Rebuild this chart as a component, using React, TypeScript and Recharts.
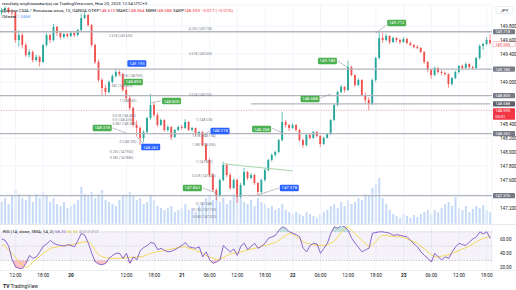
import React from 'react';
import {
  ComposedChart,
  BarChart,
  Bar,
  Line,
  Area,
  XAxis,
  YAxis,
  CartesianGrid,
  ReferenceLine,
  ReferenceDot,
  ReferenceArea,
} from 'recharts';

const FONT = 'Roboto, "Noto Sans", sans-serif';
const TEXT = '#131722';
const UP = '#26a69a';
const DOWN = '#ef5350';
const GRID = '#f0f3fa';
const LEVEL = '#b2b5be';

// USD/JPY candles (open = previous close)
const OPEN_FIRST = 150.0;
const HIGH = [
  150.06, 150.08, 150.07, 150.04, 150.01, 149.74, 149.7, 149.56, 149.47, 149.45,
  149.39, 149.38, 149.54, 149.7, 149.69, 149.83, 149.8, 149.72, 149.7, 149.7,
  149.72, 149.71, 149.76, 149.98, 150.0, 149.97, 149.83, 149.55, 149.32, 149.06,
  148.96, 149.02, 149.11, 149.193, 149.17, 149.13, 148.94, 148.8, 148.65, 148.45,
  148.37, 148.31, 148.5, 148.83, 148.7, 148.56, 148.48, 148.47, 148.38, 148.37,
  148.33, 148.38, 148.39, 148.47, 148.44, 148.36, 148.35, 148.3, 148.3, 148.13,
  147.91, 147.7, 147.48, 147.62, 147.86, 147.84, 147.7, 147.62, 147.62, 147.56,
  147.77, 147.73, 147.7, 147.69, 147.57, 147.62, 147.77, 147.9, 147.98, 148.02,
  148.19, 148.57, 148.46, 148.4, 148.41, 148.4, 148.33, 148.19, 148.26, 148.27,
  148.3, 148.3, 148.24, 148.22, 148.27, 148.47, 148.69, 148.88, 148.96, 148.94,
  149.3, 149.23, 149.11, 149.05, 149.04, 148.85, 148.78, 149.05, 149.36, 149.718,
  149.7, 149.69, 149.67, 149.65, 149.64, 149.62, 149.64, 149.63, 149.58, 149.54,
  149.53, 149.5, 149.44, 149.3, 149.19, 149.22, 149.21, 149.17, 149.15, 149.12,
  149.07, 149.16, 149.24, 149.25, 149.28, 149.27, 149.23, 149.36, 149.54, 149.56,
  149.64, 149.68,
];
const LOW = [
  149.96, 149.99, 149.98, 149.95, 149.56, 149.5, 149.48, 149.36, 149.35, 149.28,
  149.29, 149.22, 149.27, 149.5, 149.56, 149.58, 149.66, 149.61, 149.62, 149.63,
  149.64, 149.64, 149.65, 149.72, 149.9, 149.79, 149.5, 149.26, 149.0, 148.8,
  148.8, 148.84, 148.98, 149.06, 149.08, 148.86, 148.74, 148.6, 148.36, 148.22,
  148.1, 148.14, 148.261, 148.46, 148.5, 148.36, 148.37, 148.29, 148.29, 148.17,
  148.2, 148.3, 148.32, 148.33, 148.3, 148.29, 148.23, 148.24, 148.08, 147.86,
  147.64, 147.43, 147.31, 147.36, 147.58, 147.64, 147.46, 147.47, 147.27, 147.34,
  147.51, 147.6, 147.61, 147.53, 147.378, 147.4, 147.58, 147.72, 147.86, 147.93,
  147.98, 148.15, 148.35, 148.3, 148.33, 148.29, 148.15, 148.06, 148.08, 148.18,
  148.19, 148.21, 148.07, 148.1, 148.19, 148.24, 148.44, 148.65, 148.84, 148.85,
  148.87, 149.08, 148.93, 148.94, 148.8, 148.7, 148.6, 148.67, 149.0, 149.32,
  149.56, 149.58, 149.54, 149.56, 149.57, 149.54, 149.56, 149.54, 149.51, 149.48,
  149.47, 149.41, 149.26, 149.14, 149.05, 149.08, 149.12, 149.1, 149.09, 148.92,
  148.95, 149.04, 149.12, 149.17, 149.19, 149.19, 149.17, 149.18, 149.32, 149.46,
  149.52, 149.54,
];
const CLOSE = [
  150.029, 150.057, 150.0, 149.99, 149.6, 149.671, 149.529, 149.386, 149.429, 149.314,
  149.357, 149.286, 149.529, 149.671, 149.6, 149.786, 149.7, 149.643, 149.686, 149.657,
  149.7, 149.671, 149.743, 149.914, 149.957, 149.814, 149.529, 149.286, 149.029, 148.914,
  148.857, 149.0, 149.086, 149.143, 149.114, 148.886, 148.771, 148.629, 148.386, 148.343,
  148.2, 148.286, 148.486, 148.671, 148.529, 148.386, 148.457, 148.314, 148.357, 148.214,
  148.314, 148.357, 148.343, 148.429, 148.314, 148.343, 148.257, 148.286, 148.1, 147.886,
  147.671, 147.457, 147.386, 147.6, 147.814, 147.671, 147.486, 147.6, 147.357, 147.529,
  147.714, 147.629, 147.671, 147.557, 147.429, 147.6, 147.743, 147.886, 147.957, 148.0,
  148.171, 148.429, 148.386, 148.343, 148.386, 148.314, 148.171, 148.1, 148.243, 148.2,
  148.286, 148.229, 148.114, 148.2, 148.257, 148.457, 148.671, 148.857, 148.929, 148.886,
  149.214, 149.1, 148.957, 149.029, 148.814, 148.743, 148.686, 149.029, 149.343, 149.629,
  149.6, 149.657, 149.571, 149.629, 149.6, 149.571, 149.614, 149.557, 149.529, 149.5,
  149.486, 149.429, 149.286, 149.171, 149.1, 149.2, 149.143, 149.129, 149.114, 148.971,
  149.057, 149.143, 149.229, 149.2, 149.257, 149.214, 149.2, 149.343, 149.514, 149.543,
  149.6, 149.555,
];
const VOLUME = [
  1980, 2340, 1800, 2520, 3060, 2700, 2340, 2160, 2520, 1980,
  2700, 2340, 2880, 2520, 1980, 2340, 1800, 1620, 1980, 1440,
  1620, 1800, 2160, 3330, 2700, 2520, 2880, 2340, 2700, 3060,
  2160, 1980, 1800, 1620, 2160, 2520, 2700, 2880, 2520, 2160,
  2340, 1800, 1980, 2520, 2160, 1620, 1440, 1260, 1440, 1620,
  1080, 1260, 1440, 1800, 1260, 1440, 1080, 1620, 1980, 2340,
  2520, 2160, 2700, 1980, 2340, 1800, 2160, 2700, 2880, 2340,
  1980, 1800, 2160, 1620, 2340, 1980, 1800, 1440, 1620, 1260,
  1440, 1800, 1260, 1080, 900, 1080, 900, 720, 1080, 900,
  720, 540, 900, 1080, 1260, 1620, 1800, 1440, 1980, 1620,
  2160, 1800, 1980, 2340, 2160, 2700, 2520, 3240, 3600, 4140,
  2340, 1800, 1260, 900, 720, 540, 900, 720, 540, 810,
  630, 900, 1080, 1260, 900, 1260, 1080, 1440, 1800, 1980,
  1620, 2430, 1440, 1260, 1620, 1080, 1350, 1620, 1440, 1710,
  1260, 1046,
];
const RSI = [
  60, 58, 50, 31, 21, 19, 19, 26, 37, 33,
  35, 42, 50, 53, 58, 54, 52, 51, 50, 52,
  51, 49, 58, 68, 65, 54, 40, 28, 25, 24,
  26, 33, 37, 40, 40, 33, 40, 26, 35, 31,
  44, 48, 51, 55, 54, 45, 47, 44, 42, 43,
  45, 48, 51, 55, 49, 48, 47, 49, 35, 42,
  31, 26, 28, 31, 51, 46, 42, 46, 37, 50,
  54, 45, 50, 54, 47, 50, 54, 61, 63, 65,
  72, 77, 75, 70, 68, 66, 63, 47, 42, 51,
  54, 53, 40, 47, 54, 68, 77, 75, 79, 77,
  72, 61, 54, 48, 42, 45, 47, 68, 69, 70,
  70, 69, 68, 65, 66, 65, 64, 63, 58, 53,
  49, 42, 37, 33, 28, 40, 35, 31, 35, 33,
  42, 49, 54, 52, 51, 56, 60, 63, 70, 67,
  70, 61,
];
const RSI_MA = [
  52, 50, 44, 40, 34, 28, 24, 20, 22, 28,
  32, 36, 40, 43, 47, 48, 49, 50, 51, 51,
  52, 53, 54, 55, 56, 56, 52, 44, 38, 35,
  34, 33, 33, 33, 33, 33, 34, 34, 34, 35,
  35, 36, 38, 40, 41, 42, 43, 44, 45, 46,
  47, 48, 49, 49, 47, 46, 44, 42, 40, 37,
  35, 33, 31, 32, 34, 37, 39, 40, 41, 42,
  43, 45, 46, 47, 48, 50, 51, 52, 54, 55,
  58, 62, 65, 68, 67, 63, 60, 56, 54, 53,
  52, 51, 51, 51, 52, 54, 57, 63, 70, 75,
  77, 72, 67, 63, 58, 53, 49, 52, 57, 62,
  65, 65, 64, 64, 63, 63, 62, 60, 58, 56,
  54, 50, 46, 42, 38, 35, 35, 36, 37, 38,
  40, 42, 44, 46, 48, 50, 53, 56, 59, 61,
  62, 63,
];

const TIME_LABELS = [
  '12:00', '18:00', '20', '', '12:00', '18:00', '21', '06:00', '12:00',
  '18:00', '22', '06:00', '12:00', '18:00', '23', '06:00', '12:00', '18:00',
];
const DAY_LABELS = ['20', '21', '22', '23'];
// grid runs every 0.2; the labels under the price tags are not printed
const GRID_TICKS = [147.0, 147.2, 147.4, 147.6, 147.8, 148.0, 148.2, 148.4, 148.6, 148.8, 149.0, 149.2, 149.4, 149.6, 149.8];
const PRICE_TICKS = [147.0, 147.2, 147.6, 147.8, 148.0, 148.2, 148.4, 149.0, 149.4, 149.6, 149.8];
const RSI_TICKS = [20, 40, 60];
const LEVELS = [149.718, 149.185, 148.805, 148.262, 147.376];
const LEVEL_LATE = 148.688; // drawn from the 21st onwards only

const PIVOTS = [
  { i: 39, p: 149.264, t: '149.193', low: true },
  { i: 38, p: 149.0, t: '148.893', low: false },
  { i: 49, p: 148.728, t: '148.830', low: false },
  { i: 29, p: 148.343, t: '148.318', low: false },
  { i: 43, p: 148.071, t: '148.261', low: true },
  { i: 63, p: 148.3, t: '148.218', low: true },
  { i: 55, p: 147.486, t: '147.862', low: false },
  { i: 75, p: 148.328, t: '148.258', low: false },
  { i: 83, p: 147.486, t: '147.378', low: true },
  { i: 89, p: 148.757, t: '148.688', low: false },
  { i: 94, p: 149.3, t: '149.180', low: false },
  { i: 114, p: 149.843, t: '149.712', low: false },
];
const LEADERS = [
  [46, 148.73, 43, 148.7],
  [32, 148.343, 36, 148.27],
  [41, 148.114, 39, 148.214],
  [60, 148.3, 58, 148.229],
  [58, 147.486, 62, 147.414],
  [78, 148.343, 81, 148.271],
  [80, 147.486, 74, 147.386],
  [92, 148.771, 95, 148.829],
  [97, 149.3, 100, 149.2],
  [111, 149.814, 108, 149.7],
];
const FIB_TEXT = [
  { i: 54, p: 149.757, t: '4.236 (149.728)' },
  { i: 31, p: 149.657, t: '2.618 (149.630)' },
  { i: 54, p: 149.4, t: '3.618 (149.369)' },
  { i: 34, p: 149.086, t: '1.618 (148.953)' },
  { i: 31, p: 148.943, t: '1.382 (148.810)' },
  { i: 54, p: 148.814, t: '2.618 (148.765)' },
  { i: 34, p: 148.728, t: '1 (148.630)' },
  { i: 32, p: 148.52, t: '0.618 (148.480)' },
  { i: 32, p: 148.46, t: '0.5 (148.418)' },
  { i: 32, p: 148.4, t: '0.382 (148.360)' },
  { i: 34, p: 148.143, t: '0 (148.100)' },
  { i: 31, p: 148.0, t: '-0.236 (147.960)' },
  { i: 31, p: 147.914, t: '-0.382 (147.880)' },
  { i: 56, p: 148.457, t: '1 (148.618)' },
  { i: 55, p: 148.229, t: '1.618 (148.194)' },
  { i: 55, p: 148.1, t: '1.382 (148.055)' },
  { i: 56, p: 147.857, t: '1 (147.833)' },
  { i: 55, p: 147.657, t: '0.618 (147.608)' },
  { i: 56, p: 147.257, t: '0 (147.248)' },
  { i: 55, p: 147.171, t: '-0.236 (147.109)' },
  { i: 55, p: 147.071, t: '-0.382 (147.023)' },
];

const TICK_START = 4; // candle index of the first 12:00 label
const TICK_STEP = 8; // 6 hours of 45 min candles
const PRICE_DOMAIN = [146.971, 150.1];

const rows = CLOSE.map((close, i) => ({
  i,
  open: i === 0 ? OPEN_FIRST : CLOSE[i - 1],
  high: HIGH[i],
  low: LOW[i],
  close,
  volume: VOLUME[i],
  rsi: RSI[i],
  ma: RSI_MA[i],
}));

const tickIdx = TIME_LABELS.map((_, k) => TICK_START + k * TICK_STEP).filter((_, k) => TIME_LABELS[k] !== '');
const labelAt = new Map(TIME_LABELS.map((l, k) => [TICK_START + k * TICK_STEP, l]));

function Candle(props: any) {
  const { x, y, width, height, payload } = props;
  if (!payload) return null;
  const { open, close, high, low } = payload;
  const color = close >= open ? UP : DOWN;
  const top = Math.min(y, y + height);
  const h = Math.abs(height);
  const k = h / Math.max(high - low, 1e-6);
  const cx = x + width / 2;
  const bodyTop = top + (high - Math.max(open, close)) * k;
  const bodyH = Math.max(Math.abs(open - close) * k, 0.7);
  const bw = Math.max(width * 0.62, 1.4);
  return (
    <g>
      <line x1={cx} x2={cx} y1={top} y2={top + h} stroke={color} strokeWidth={0.7} />
      <rect x={cx - bw / 2} y={bodyTop} width={bw} height={bodyH} fill={color} />
    </g>
  );
}

function PriceTag(props: any) {
  const { viewBox, text, sub, bg, fg = '#fff', border, dy = 0 } = props;
  if (!viewBox) return null;
  const x = viewBox.x + viewBox.width + 1;
  const y = viewBox.y + dy;
  const h = sub ? 11.6 : 5.2;
  return (
    <g>
      <rect x={x} y={y - 2.6} width={22} height={h} rx={0.8} fill={bg} stroke={border || 'none'} strokeWidth={0.6} />
      <text x={x + 2.2} y={y + 1.5} fontSize={4.1} fill={fg} fontFamily={FONT}>
        {text}
      </text>
      {sub ? (
        <text x={x + 2.2} y={y + 7.6} fontSize={4.1} fill={fg} fontFamily={FONT}>
          {sub}
        </text>
      ) : null}
    </g>
  );
}

function PivotBox(props: any) {
  const { viewBox, text, color } = props;
  if (!viewBox) return null;
  const cx = viewBox.x + viewBox.width / 2;
  const cy = viewBox.y + viewBox.height / 2;
  return (
    <g>
      <rect x={cx - 9.5} y={cy - 3.2} width={19} height={6.4} rx={1.2} fill={color} />
      <text x={cx} y={cy + 1.5} textAnchor="middle" fontSize={4.3} fill="#fff" fontFamily={FONT}>
        {text}
      </text>
    </g>
  );
}

function FibText(props: any) {
  const { viewBox, text } = props;
  if (!viewBox) return null;
  return (
    <text x={viewBox.x} y={viewBox.y + 1.1} fontSize={3.3} fill="#787b86" fontFamily={FONT}>
      {text}
    </text>
  );
}

function TimeTick(props: any) {
  const { x, y, payload } = props;
  const label = labelAt.get(payload.value) || '';
  const bold = DAY_LABELS.includes(label);
  return (
    <text x={x} y={y - 1} textAnchor="middle" fontSize={4.8} fontWeight={bold ? 700 : 400} fill={TEXT} fontFamily={FONT}>
      {label}
    </text>
  );
}

const axisTick = { fontSize: 4.6, fill: TEXT, fontFamily: FONT };

export default function App() {
  return (
    <div style={{ position: 'fixed', left: 0, top: 0, width: 516, height: 290, background: '#fff', overflow: 'hidden' }}>
      {/* volume, behind the candles */}
      <div style={{ position: 'absolute', left: 0, top: 0 }}>
        <BarChart width={516} height={224} data={rows} margin={{ top: 5, right: 24, bottom: 0, left: 0 }} barCategoryGap="18%">
          <XAxis dataKey="i" hide />
          <YAxis hide domain={[0, 19710]} allowDataOverflow />
          <Bar dataKey="volume" fill="#9ec2f5" fillOpacity={0.6} isAnimationActive={false} />
        </BarChart>
      </div>

      {/* price pane */}
      <div style={{ position: 'absolute', left: 0, top: 0 }}>
        <ComposedChart width={516} height={224} data={rows} margin={{ top: 5, right: 0, bottom: 0, left: 0 }} barCategoryGap={0}>
          <CartesianGrid stroke={GRID} strokeWidth={0.8} yAxisId="grid" />
          <XAxis dataKey="i" hide ticks={tickIdx} interval={0} />
          <YAxis yAxisId="grid" hide domain={PRICE_DOMAIN} allowDataOverflow ticks={GRID_TICKS} />
          <YAxis
            orientation="right"
            width={24}
            domain={PRICE_DOMAIN}
            allowDataOverflow
            ticks={PRICE_TICKS}
            tickFormatter={(v: number) => v.toFixed(3)}
            tick={axisTick}
            tickLine={false}
            axisLine={false}
            tickMargin={2}
          />
          {FIB_TEXT.map((f, k) => (
            <ReferenceDot key={`fib-${k}`} x={f.i} y={f.p} r={0.1} fill="none" stroke="none" label={<FibText text={f.t} />} />
          ))}
          {LEVELS.map((lv) => (
            <ReferenceLine
              key={`lv-${lv}`}
              y={lv}
              stroke={LEVEL}
              strokeWidth={1.3}
              label={<PriceTag text={lv.toFixed(3)} bg="#787b86" />}
            />
          ))}
          <ReferenceLine segment={[{ x: 72, y: LEVEL_LATE }, { x: 141, y: LEVEL_LATE }]} stroke={LEVEL} strokeWidth={1.3} />
          <ReferenceLine y={LEVEL_LATE} stroke="none" label={<PriceTag text={LEVEL_LATE.toFixed(3)} bg="#5d606b" />} />
          <ReferenceLine segment={[{ x: 64, y: 147.83 }, { x: 84, y: 147.73 }]} stroke="#a5d6a7" strokeWidth={1} />
          <ReferenceLine
            y={148.593}
            stroke="#f23645"
            strokeOpacity={0.55}
            strokeDasharray="1 1.5"
            strokeWidth={0.7}
            label={<PriceTag text="148.593" sub="05:01" bg="#f23645" dy={0.3} />}
          />
          <ReferenceLine
            y={149.555}
            stroke="none"
            label={<PriceTag text="149.555" bg="#fff" fg="#f23645" border="#f5a3a9" dy={0.9} />}
          />
          <Bar dataKey={(d: any) => [d.low, d.high]} shape={Candle} isAnimationActive={false} />
          {LEADERS.map(([i1, p1, i2, p2], k) => (
            <ReferenceLine
              key={`ld-${k}`}
              segment={[{ x: i1, y: p1 }, { x: i2, y: p2 }]}
              stroke="#9598a1"
              strokeWidth={0.6}
            />
          ))}
          {PIVOTS.map((pv, k) => (
            <ReferenceDot
              key={`pv-${k}`}
              x={pv.i}
              y={pv.p}
              r={0.1}
              fill="none"
              stroke="none"
              label={<PivotBox text={pv.t} color={pv.low ? '#2962ff' : '#4caf50'} />}
            />
          ))}
        </ComposedChart>
      </div>

      {/* RSI pane with time scale */}
      <div style={{ position: 'absolute', left: 0, top: 226 }}>
        <ComposedChart width={516} height={57} data={rows} margin={{ top: 0, right: 0, bottom: 0, left: 0 }}>
          <CartesianGrid stroke={GRID} strokeWidth={0.8} horizontal={false} />
          <ReferenceArea y1={30} y2={70} fill="#7e57c2" fillOpacity={0.08} stroke="none" />
          <XAxis dataKey="i" scale="band" ticks={tickIdx} interval={0} height={13} tick={<TimeTick />} tickLine={false} axisLine={false} />
          <YAxis
            orientation="right"
            width={24}
            domain={[16.7, 78.1]}
            allowDataOverflow
            ticks={RSI_TICKS}
            tickFormatter={(v: number) => v.toFixed(2)}
            tick={axisTick}
            tickLine={false}
            axisLine={false}
            tickMargin={2}
          />
          <ReferenceLine y={70} stroke="#787b86" strokeDasharray="1.5 1.5" strokeOpacity={0.6} strokeWidth={0.6} />
          <ReferenceLine y={50} stroke="#787b86" strokeDasharray="1.5 1.5" strokeOpacity={0.4} strokeWidth={0.6} />
          <ReferenceLine y={30} stroke="#787b86" strokeDasharray="1.5 1.5" strokeOpacity={0.6} strokeWidth={0.6} />
          <Area dataKey={(d: any) => Math.min(d.rsi, 30)} baseValue={30} stroke="none" fill="#f23645" fillOpacity={0.3} isAnimationActive={false} />
          <Area dataKey={(d: any) => Math.max(d.rsi, 70)} baseValue={70} stroke="none" fill="#089981" fillOpacity={0.25} isAnimationActive={false} />
          <Line dataKey="ma" stroke="#f5d547" strokeWidth={0.9} dot={false} isAnimationActive={false} />
          <Line dataKey="rsi" stroke="#7e57c2" strokeWidth={0.9} dot={false} isAnimationActive={false} />
        </ComposedChart>
      </div>

      {/* legends, separators, watermark */}
      <svg width={516} height={290} style={{ position: 'absolute', left: 0, top: 0, pointerEvents: 'none' }} fontFamily={FONT}>
        <line x1={0} x2={516} y1={224.5} y2={224.5} stroke="#e0e3eb" strokeWidth={0.8} />
        <line x1={0} x2={516} y1={270.5} y2={270.5} stroke="#e0e3eb" strokeWidth={0.6} />
        <text x={2} y={5} fontSize={4.4} fill={TEXT}>
          rezultaty опубликовал(а) на TradingView.com, Ноя 20, 2023 12:54 UTC+3
        </text>
        <text x={2} y={11.5} fontSize={4.4} fill={TEXT}>
          Доллар США / Японская иена, 15, OANDA{'  '}ОТКР<tspan fill="#f23645">148.610</tspan>{'  '}МАКС
          <tspan fill="#f23645">148.864</tspan>{'  '}МИН<tspan fill="#f23645">148.588</tspan>{'  '}ЗАКР
          <tspan fill="#f23645">148.593</tspan>{'  '}
          <tspan fill="#f23645">−0.017 (−0.01%)</tspan>
        </text>
        <text x={2} y={17.5} fontSize={4.4} fill={TEXT}>
          Объем{' '}<tspan fill="#5b9cf6">1.046K</tspan>
        </text>
        <rect x={496} y={6.5} width={17} height={7} rx={1} fill="#fff" stroke="#e0e3eb" strokeWidth={0.6} />
        <text x={504.5} y={11.6} fontSize={4.2} fill={TEXT} textAnchor="middle">
          JPY
        </text>
        <text x={3} y={233} fontSize={4.4} fill={TEXT}>
          RSI (14, close, SMA, 14, 2){' '}<tspan fill="#7e57c2">58.20</tspan>{' '}
          <tspan fill="#e6c229">56.55</tspan>{' '}
          <tspan fill="#787b86">∅ ∅ ∅ ∅ ∅</tspan>
        </text>
        <text x={3} y={287.5} fontSize={5} fill={TEXT}>
          <tspan fontWeight={700}>TV</tspan> TradingView
        </text>
      </svg>
    </div>
  );
}
